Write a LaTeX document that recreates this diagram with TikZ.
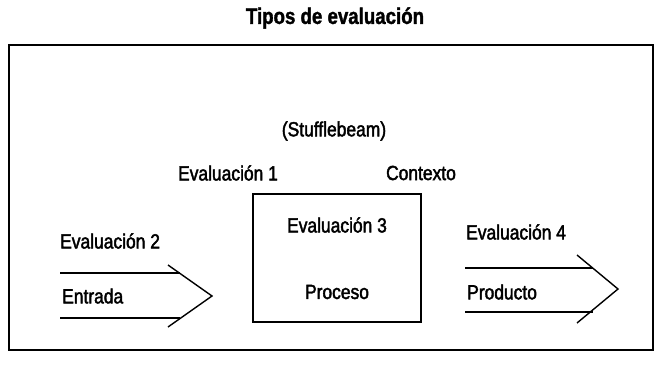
\documentclass[tikz,border=0pt]{standalone}
\usepackage{fontspec}
\setmainfont{Liberation Sans}[FakeStretch=0.85]
\newfontfamily\lblfont{Liberation Sans}[FakeStretch=0.85,FakeBold=2]
\newfontfamily\ttlfont{Liberation Sans Bold}[FakeStretch=0.83,FakeBold=1.5]
\begin{document}
\begin{tikzpicture}[x=1pt,y=-1pt,
  lbl/.style={inner sep=0pt,font=\lblfont\fontsize{20.5}{22}\selectfont},
  ttl/.style={inner sep=0pt,font=\ttlfont\fontsize{22.5}{24}\selectfont},
  frame/.style={draw=black,line width=1.8pt},
  arr/.style={draw=black,line width=1.4pt}]
\useasboundingbox (0,0) rectangle (662,370);
\node[ttl] (title) at (335,18) {Tipos de evaluación};
\draw[frame] (9,45) rectangle (653,350);
\node[lbl] (stuff) at (334,131) {(Stufflebeam)};
\node[lbl] (ev1) at (228,173) {Evaluación 1};
\node[lbl] (ctx) at (421,173) {Contexto};
\node[draw=black,line width=1.6pt,minimum width=168pt,minimum height=128pt,inner sep=0pt] (box) at (337,258) {};
\node[lbl] (ev3) at (337,225) {Evaluación 3};
\node[lbl] (proc) at (337,292) {Proceso};
% left arrow
\coordinate (la1) at (60,273);
\coordinate (la2) at (180,273);
\coordinate (lb1) at (60,318);
\coordinate (lb2) at (180,318);
\coordinate (lt) at (168,265);
\coordinate (ltip) at (212,296);
\coordinate (lbt) at (168,327);
\draw[arr] (la1) -- (la2);
\draw[arr] (lb1) -- (lb2);
\draw[arr] (lt) -- (ltip) -- (lbt);
\node[lbl,anchor=west] (ev2) at (60,241) {Evaluación 2};
\node[lbl,anchor=west] (ent) at (62,296) {Entrada};
% right arrow
\coordinate (ra1) at (465,268);
\coordinate (ra2) at (593,268);
\coordinate (rb1) at (465,312);
\coordinate (rb2) at (593,312);
\coordinate (rt) at (577,255);
\coordinate (rtip) at (618,289);
\coordinate (rbt) at (577,323);
\draw[arr] (ra1) -- (ra2);
\draw[arr] (rb1) -- (rb2);
\draw[arr] (rt) -- (rtip) -- (rbt);
\node[lbl,anchor=west] (ev4) at (466,232) {Evaluación 4};
\node[lbl,anchor=west] (prod) at (467,292) {Producto};
\end{tikzpicture}
\end{document}
